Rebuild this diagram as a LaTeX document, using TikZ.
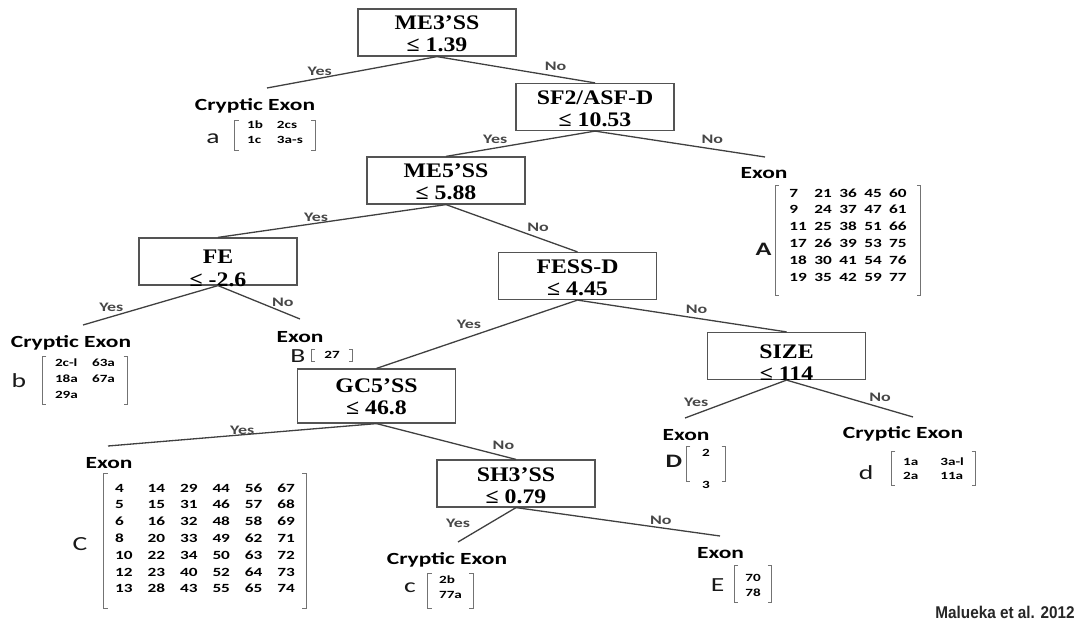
\documentclass[tikz,border=0pt]{standalone}
\usepackage{fontspec}
\setmainfont{Liberation Serif}[FakeStretch=1.15]
\newfontfamily\lblfont{Carlito}[FakeStretch=1.38]
\newfontfamily\citefont{Liberation Sans}[FakeStretch=0.9]
\usetikzlibrary{matrix}

% two centred lines, baseline on the first one
\newcommand{\twoline}[2]{\vtop{\baselineskip=22pt\halign{\hfil##\hfil\cr#1\cr#2\cr}}}
% bracket round a matrix: [side gap]{matrix}{extra above}{extra below}
\newcommand{\brk}[4][11pt]{%
  \draw[brk] ([shift={({-(#1)+4pt},{#3})}]#2.north west) -- ++(-4pt,0) |- ([shift={({-(#1)+4pt},{-(#4)})}]#2.south west);
  \draw[brk] ([shift={({#1-4pt},{#3})}]#2.north east) -- ++(4pt,0) |- ([shift={({#1-4pt},{-(#4)})}]#2.south east);}

\tikzset{
  test/.style={draw=black!67, line width=1.2pt, minimum width=158pt, minimum height=47pt,
    inner sep=0pt, font=\bfseries\fontsize{20.7}{22}\selectfont, text height=14pt, text depth=19pt},
  sunk/.style={text depth=9pt},
  branch/.style={draw=black!75, line width=1.3pt},
  ans/.style={font=\lblfont\bfseries\fontsize{13}{13}\selectfont, text=black!72, inner sep=0pt},
  cls/.style={font=\lblfont\bfseries\fontsize{17}{17}\selectfont, inner sep=0pt, text height=11pt, text depth=0pt},
  grp/.style={font=\lblfont\fontsize{20}{20}\selectfont, text=black!90, inner sep=0pt, anchor=base},
  grpb/.style={grp, font=\lblfont\bfseries\fontsize{19}{19}\selectfont},
  grid/.style={matrix of nodes, inner sep=0pt, row sep=7.5pt, column sep=14pt,
    nodes={font=\lblfont\bfseries\fontsize{11}{11}\selectfont, inner sep=0pt, anchor=base west,
      text height=7.5pt, text depth=0pt}},
  biggrid/.style={grid, row sep=8.8pt,
    nodes={font=\lblfont\bfseries\fontsize{12.5}{12.5}\selectfont, text height=8pt}},
  brk/.style={draw=black!55, line width=0.9pt},
  cite/.style={font=\citefont\bfseries\fontsize{17}{17}\selectfont, text=black!85, inner sep=0pt,
    text height=12.2pt, text depth=0pt}
}

\begin{document}
\begin{tikzpicture}[x=1pt,y=-1pt]
  \useasboundingbox (0,0) rectangle (1086,636);

  % splits
  \node[test] (me3) at (437,32.5) {\twoline{ME3’SS}{≤ 1.39}};
  \node[test] (sf2) at (595,107) {\twoline{SF2/ASF-D}{≤ 10.53}};
  \node[test] (me5) at (446,180.5) {\twoline{ME5’SS}{≤ 5.88}};
  \node[test,sunk] (fe) at (218,261.5) {\twoline{FE}{≤ -2.6}};
  \node[test] (fess) at (577.5,276) {\twoline{FESS-D}{≤ 4.45}};
  \node[test,sunk] (size) at (786.5,356) {\twoline{SIZE}{≤ 114}};
  \node[test,minimum height=54pt,text depth=22pt] (gc5) at (376.5,396) {\twoline{GC5’SS}{≤ 46.8}};
  \node[test] (sh3) at (516,483.5) {\twoline{SH3’SS}{≤ 0.79}};

  % free ends above the leaves
  \coordinate (ya) at (267,88);
  \coordinate (yA) at (765,157);
  \coordinate (yb) at (83,325);
  \coordinate (yB) at (300,319);
  \coordinate (yC) at (108,446);
  \coordinate (yD) at (685,418);
  \coordinate (yd) at (913,417);
  \coordinate (yc) at (458,542);
  \coordinate (yE) at (720,536);

  \draw[branch] (me3.south) -- node[ans,pos=.69,above=2pt] {Yes} (ya);
  \draw[branch] (me3.south) -- node[ans,pos=.75,above=5pt] {No} (sf2.north);
  \draw[branch] (sf2.south) -- node[ans,pos=.67,above=4pt] {Yes} (me5.north);
  \draw[branch] (sf2.south) -- node[ans,pos=.69,above=5pt] {No} (yA);
  \draw[branch] (me5.south) -- node[ans,pos=.57,above=1pt] {Yes} (fe.north);
  \draw[branch] (me5.south) -- node[ans,pos=.70,above=5pt] {No} (fess.north);
  \draw[branch] (fe.south) -- node[ans,pos=.79,above=4pt] {Yes} (yb);
  \draw[branch] (fe.south) -- node[ans,pos=.79,above=5pt] {No} (yB);
  \draw[branch] (fess.south) -- node[ans,pos=.54,above=8pt] {Yes} (gc5.north);
  \draw[branch] (fess.south) -- node[ans,pos=.57,above=4pt] {No} (size.north);
  \draw[branch] (size.south) -- node[ans,pos=.89,above=7pt] {Yes} (yD);
  \draw[branch] (size.south) -- node[ans,pos=.74,above=5pt] {No} (yd);
  \draw[branch] (gc5.south) -- node[ans,pos=.5,above=0pt] {Yes} (yC);
  \draw[branch] (gc5.south) -- node[ans,pos=.91,above=6pt] {No} (sh3.north);
  \draw[branch] (sh3.south) -- node[ans,pos=.47,left=18pt] {Yes} (yc);
  \draw[branch] (sh3.south) -- node[ans,pos=.71,above=3pt] {No} (yE);

  % leaves
  \node[cls] (ca) at (255,105) {Cryptic Exon};
  \node[cls] (cA) at (764,173) {Exon};
  \node[cls] (cb) at (71,342) {Cryptic Exon};
  \node[cls] (cB) at (300,337) {Exon};
  \node[cls] (cC) at (109,463) {Exon};
  \node[cls] (cD) at (686,435) {Exon};
  \node[cls] (cd) at (903,433) {Cryptic Exon};
  \node[cls] (cc) at (447,559) {Cryptic Exon};
  \node[cls] (cE) at (720.5,553) {Exon};

  \node[grp] (la) at (213,144) {a};
  \node[grpb] (lA) at (763.5,255) {A};
  \node[grp] (lb) at (19,387) {b};
  \node[grp] (lB) at (298,362) {B};
  \node[grp] (lC) at (80,550) {C};
  \node[grpb] (lD) at (674,467) {D};
  \node[grp] (ld) at (866,479) {d};
  \node[grp] (lc) at (410,592) {c};
  \node[grp] (lE) at (717.5,591) {E};

  \matrix[grid] (ma) at (275,132.5) {1b & 2cs \\ 1c & 3a-s \\};
  \matrix[grid,row sep=8.5pt] (mb) at (85,379) {2c-l & 63a \\ 18a & 67a \\ 29a & \\};
  \matrix[grid] (mc) at (450.5,587.5) {2b \\ 77a \\};
  \matrix[grid,row sep=6.5pt,column sep=22pt] (md) at (933.5,469) {1a & 3a-l \\ 2a & 11a \\};
  \matrix[grid] (mB) at (332,355) {27 \\};
  \matrix[grid,row sep=24.5pt,nodes={anchor=base}] (mD) at (706,469) {2 \\ 3 \\};
  \matrix[grid] (mE) at (753,585.5) {70 \\ 78 \\};
  \matrix[biggrid,column sep=7.5pt] (mA) at (848,235) {
    7  & 21 & 36 & 45 & 60 \\
    9  & 24 & 37 & 47 & 61 \\
    11 & 25 & 38 & 51 & 66 \\
    17 & 26 & 39 & 53 & 75 \\
    18 & 30 & 41 & 54 & 76 \\
    19 & 35 & 42 & 59 & 77 \\
  };
  \matrix[biggrid,column sep=15pt] (mC) at (205,538.5) {
    4  & 14 & 29 & 44 & 56 & 67 \\
    5  & 15 & 31 & 46 & 57 & 68 \\
    6  & 16 & 32 & 48 & 58 & 69 \\
    8  & 20 & 33 & 49 & 62 & 71 \\
    10 & 22 & 34 & 50 & 63 & 72 \\
    12 & 23 & 40 & 52 & 64 & 73 \\
    13 & 28 & 43 & 55 & 65 & 74 \\
  };

  \brk[12pt]{ma}{1pt}{7pt}
  \brk[12.5pt]{mb}{3pt}{5pt}
  \brk{mc}{3pt}{9pt}
  \brk[11.5pt]{md}{7pt}{5pt}
  \brk[13pt]{mB}{1.5pt}{2.5pt}
  \brk[15.5pt]{mD}{3pt}{-7.5pt}
  \brk{mE}{9pt}{5pt}
  \brk[14pt]{mA}{3pt}{14pt}
  \brk{mC}{10pt}{15pt}

  \node[cite] (src) at (1005,612) {Malueka et al. 2012};
\end{tikzpicture}
\end{document}
